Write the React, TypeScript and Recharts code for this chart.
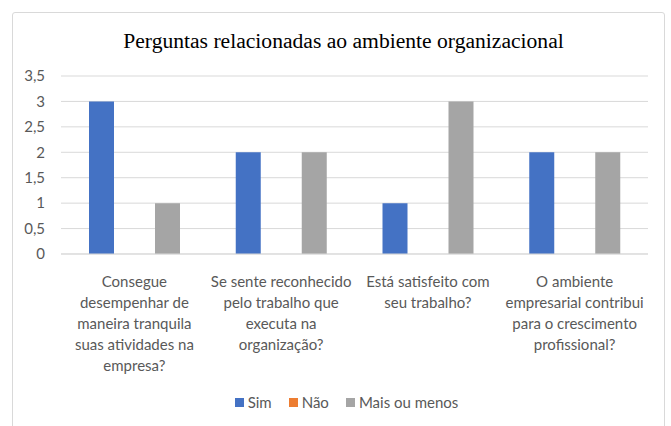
import { BarChart, Bar, XAxis, YAxis, CartesianGrid, Legend } from "recharts";

const categories = [
  ["Consegue", "desempenhar de", "maneira tranquila", "suas atividades na", "empresa?"],
  ["Se sente reconhecido", "pelo trabalho que", "executa na", "organização?"],
  ["Está satisfeito com", "seu trabalho?"],
  ["O ambiente", "empresarial contribui", "para o crescimento", "profissional?"],
];
const sim = [3, 2, 1, 2];
const nao = [0, 0, 0, 0];
const maisOuMenos = [1, 2, 3, 2];
const yTicks = [0, 0.5, 1, 1.5, 2, 2.5, 3, 3.5];
const seriesOrder = ["Sim", "Não", "Mais ou menos"];

const data = categories.map((lines, i) => ({
  name: lines.join(" "),
  sim: sim[i],
  nao: nao[i],
  mais: maisOuMenos[i],
}));

const FONT = "Lato, 'Open Sans', sans-serif";
const TEXT = "#595959";

const CategoryTick = ({ x, y, index }: any) => {
  const lines = categories[index] || [];
  return (
    <g transform={`translate(${x},${y})`}>
      {lines.map((line, i) => (
        <text
          key={i}
          x={0}
          y={i * 21 + 25}
          textAnchor="middle"
          fill={TEXT}
          fontSize={15}
          fontFamily={FONT}
        >
          {line}
        </text>
      ))}
    </g>
  );
};

const LegendContent = ({ payload }: any) => {
  const items = [...(payload || [])].sort(
    (a: any, b: any) => seriesOrder.indexOf(a.value) - seriesOrder.indexOf(b.value)
  );
  return (
    <div
      style={{
        display: "flex",
        justifyContent: "center",
        gap: 17,
        paddingLeft: 22,
        fontFamily: FONT,
        fontSize: 15,
        color: TEXT,
      }}
    >
      {items.map((entry: any) => (
        <div key={entry.value} style={{ display: "flex", alignItems: "center", gap: 4 }}>
          <div style={{ width: 9, height: 9, background: entry.color }} />
          <span>{entry.value}</span>
        </div>
      ))}
    </div>
  );
};

export default function App() {
  return (
    <div style={{ position: "absolute", left: 0, top: 0, width: 671, height: 426, overflow: "hidden", background: "#fff" }}>
      <div
        style={{
          position: "absolute",
          left: 12,
          top: 12,
          width: 651,
          height: 440,
          border: "1px solid #D9D9D9",
          borderRadius: 3,
        }}
      />
      <div
        style={{
          position: "absolute",
          left: 8,
          top: 29,
          width: 671,
          textAlign: "center",
          fontFamily: "'Liberation Serif', 'Times New Roman', serif",
          fontSize: 21.6,
          color: "#000",
        }}
      >
        Perguntas relacionadas ao ambiente organizacional
      </div>
      <div style={{ position: "absolute", left: 0, top: 0 }}>
        <BarChart
          width={671}
          height={426}
          data={data}
          margin={{ top: 76, right: 23, bottom: 142, left: 0 }}
          barSize={25}
          barGap={8}
        >
          <CartesianGrid vertical={false} stroke="#D9D9D9" strokeWidth={1} />
          <XAxis
            dataKey="name"
            height={30}
            axisLine={{ stroke: "#D9D9D9" }}
            tickLine={false}
            interval={0}
            tick={<CategoryTick />}
          />
          <YAxis
            width={61}
            domain={[0, 3.5]}
            ticks={yTicks}
            interval={0}
            axisLine={false}
            tickLine={false}
            tickSize={0}
            tickMargin={16}
            tick={{ fill: TEXT, fontSize: 15, fontFamily: FONT }}
            tickFormatter={(v: number) => String(v).replace(".", ",")}
          />
          <Legend
            layout="horizontal"
            verticalAlign="middle"
            content={<LegendContent />}
            wrapperStyle={{ top: 393, left: 0, width: 671 }}
          />
          <Bar dataKey="sim" name="Sim" fill="#4472C4" isAnimationActive={false} />
          <Bar dataKey="nao" name="Não" fill="#ED7D31" isAnimationActive={false} />
          <Bar dataKey="mais" name="Mais ou menos" fill="#A5A5A5" isAnimationActive={false} />
        </BarChart>
      </div>
    </div>
  );
}
